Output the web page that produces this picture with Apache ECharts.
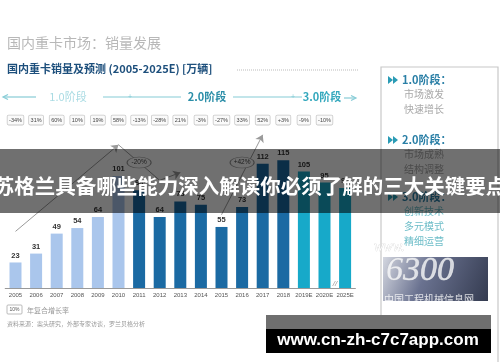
<!DOCTYPE html>
<html><head><meta charset="utf-8">
<script src="https://cdn.jsdelivr.net/npm/echarts@6/dist/echarts.min.js"></script>
<style>html,body{margin:0;padding:0;background:#fff}#c{width:500px;height:362px}</style>
</head><body><div id="c"></div>
<script>
var categories = ['2005','2006','2007','2008','2009','2010','2011','2012','2013','2014','2015','2016','2017','2018','2019E','2020E','2025E'];
var sales = [23,31,49,54,64,101,88,64,78,75,55,73,112,115,105,95,90];
var phase = [1,1,1,1,1,1,2,2,2,2,2,2,2,2,3,3,3];
var growth = ['-34%','31%','60%','10%','19%','58%','-13%','-28%','21%','-3%','-27%','33%','52%','+3%','-9%','-10%',''];
var trendLines = [
  {from:['2005',51], to:['2010',129], arrow:true},
  {from:['2010',129], to:['2012',97], arrow:false},
  {from:['2012',97], to:['2013',104], arrow:true},
  {from:['2015',66], to:['2017',138], arrow:true}
];
var bubbles = [
  {at:['2011',113], text:'-20%'},
  {at:['2016',113], text:'+42%'}
];
var phaseNames = ['1.0阶段','2.0阶段','3.0阶段'];
var phaseNotes = [['市场激发','快速增长'],['市场成熟','结构调整'],['创新技术','多元模式','精细运营']];

var phaseColors = {1:'#aac6ec',2:'#1b6aa3',3:'#17a9c9'};
var chart = echarts.init(document.getElementById('c'));
var CJK = '"Noto Sans CJK SC", sans-serif';

var g = [];
g.push({type:'text', left:7, top:36, style:{text:'国内重卡市场：销量发展', font:'14px '+CJK, fill:'#b8b8b8'}});
g.push({type:'text', left:7, top:63, style:{text:'国内重卡销量及预测 (2005-2025E) [万辆]', font:'bold 11px '+CJK, fill:'#1d4f7c'}});
g.push({type:'line', shape:{x1:237,y1:70,x2:358,y2:70}, style:{stroke:'#bbb', lineWidth:1, lineDash:[1,1]}});
var pc = '#86ccd6';
g.push({type:'line', shape:{x1:4,y1:97,x2:36,y2:97}, style:{stroke:pc, lineWidth:1.2}});
g.push({type:'polyline', shape:{points:[[8,94.5],[3,97],[8,99.5]]}, style:{stroke:pc, fill:null, lineWidth:1.2}});
g.push({type:'text', x:68, y:97, style:{text:phaseNames[0], font:'11px '+CJK, fill:'#a9dbe3', align:'center', verticalAlign:'middle'}});
g.push({type:'line', shape:{x1:103,y1:97,x2:181,y2:97}, style:{stroke:pc, lineWidth:1.2}});
g.push({type:'text', x:130, y:97, style:{text:'+', font:'7px sans-serif', fill:pc, align:'center', verticalAlign:'middle'}});
g.push({type:'text', x:207, y:97, style:{text:phaseNames[1], font:'bold 11px '+CJK, fill:'#2b8ea8', align:'center', verticalAlign:'middle'}});
g.push({type:'line', shape:{x1:233,y1:97,x2:302,y2:97}, style:{stroke:pc, lineWidth:1.2}});
g.push({type:'text', x:293, y:97, style:{text:'+', font:'7px sans-serif', fill:pc, align:'center', verticalAlign:'middle'}});
g.push({type:'text', x:322, y:97, style:{text:phaseNames[2], font:'bold 11px '+CJK, fill:'#34a8bd', align:'center', verticalAlign:'middle'}});
g.push({type:'line', shape:{x1:344,y1:98,x2:355,y2:98}, style:{stroke:pc, lineWidth:1.2}});
g.push({type:'polyline', shape:{points:[[351,95.5],[356,98],[351,100.5]]}, style:{stroke:pc, fill:null, lineWidth:1.2}});
g.push({type:'polyline', shape:{points:[[381,315],[381,67],[498,67],[498,362]]}, style:{stroke:'#c8c8c8', fill:null, lineWidth:1.2}});
var py = [80,140,197];
for (var i=0;i<3;i++){
  g.push({type:'polygon', shape:{points:[[388,py[i]-4],[393,py[i]],[388,py[i]+4]]}, style:{fill:'#2a9bb5'}});
  g.push({type:'polygon', shape:{points:[[393,py[i]-4],[398,py[i]],[393,py[i]+4]]}, style:{fill:'#2a9bb5'}});
  g.push({type:'text', x:402, y:py[i], style:{text:phaseNames[i]+'：', font:'bold 11px '+CJK, fill:'#2a7fa6', verticalAlign:'middle'}});
  for (var j=0;j<phaseNotes[i].length;j++){
    g.push({type:'text', x:404, y:py[i]+14+j*15, style:{text:phaseNotes[i][j], font:'10px '+CJK, fill: i===2?'#6dbdc8':'#a8a8a8', verticalAlign:'middle'}});
  }
}
g.push({type:'rect', shape:{x:383,y:257,width:105,height:44}, style:{fill:new echarts.graphic.LinearGradient(0,0,1,1,[{offset:0,color:'#d4d7e0'},{offset:0.4,color:'#6a7290'},{offset:1,color:'#343b50'}])}});
g.push({type:'text', x:374, y:240, style:{text:'www.', font:'italic 14px serif', fill:'#ffffff', stroke:'#d0d0d0', lineWidth:0.5}});
g.push({type:'text', x:386, y:254, style:{text:'6300', font:'italic 34px serif', fill:'rgba(255,255,255,0.75)', stroke:'#b8bcc6', lineWidth:0.8}});
g.push({type:'text', x:384, y:294, style:{text:'中国工程机械信息网', font:'10px '+CJK, fill:'rgba(255,255,255,0.8)'}});
g.push({type:'rect', shape:{x:7,y:305,width:15,height:9,r:1}, style:{fill:'#fff', stroke:'#aaa', lineWidth:0.8}});
g.push({type:'text', x:14.5, y:309.5, style:{text:'10%', font:'5px sans-serif', fill:'#555', align:'center', verticalAlign:'middle'}});
g.push({type:'text', x:27, y:310, style:{text:'年复合增长率', font:'7px '+CJK, fill:'#999', verticalAlign:'middle'}});
g.push({type:'text', x:7, y:324, style:{text:'资料来源：案头研究，外部专家访谈，罗兰贝格分析', font:'6px '+CJK, fill:'#999', verticalAlign:'middle'}});
g.push({type:'text', x:335, y:284, style:{text:'//', font:'italic 8px sans-serif', fill:'#999', align:'center', verticalAlign:'middle'}, z:50});
g.push({type:'rect', shape:{x:0,y:149,width:500,height:64}, style:{fill:'rgba(0,0,0,0.56)'}, z:100});
g.push({type:'text', x:250, y:186, style:{text:'苏格兰具备哪些能力深入解读你必须了解的三大关键要点', font:'bold 20.5px '+CJK, fill:'#fff', align:'center', verticalAlign:'middle'}, z:101});
g.push({type:'rect', shape:{x:266,y:315,width:225,height:14}, style:{fill:'#6f6f6f'}, z:100});
g.push({type:'rect', shape:{x:266,y:329,width:225,height:24}, style:{fill:'#000'}, z:100});
g.push({type:'text', x:378, y:340, style:{text:'www.cn-zh-c7c7app.com', font:'bold 17px "Liberation Sans", sans-serif', fill:'#fff', align:'center', verticalAlign:'middle'}, z:101});

var mlData = trendLines.map(function(t){
  return [{coord:t.from, symbol:'none'},{coord:t.to, symbol: t.arrow?'arrow':'none', symbolSize:7}];
});
var mpData = bubbles.map(function(b){ return {coord:b.at, value:b.text}; });

chart.setOption({
  animation:false,
  backgroundColor:'#fff',
  grid:{left:5.2, right:144.6, top:132.6, bottom:74},
  xAxis:[{
    type:'category', data:categories, position:'bottom',
    axisLine:{lineStyle:{color:'#999', width:1}}, axisTick:{show:false},
    axisLabel:{fontSize:6, color:'#555', margin:4, interval:0, fontFamily:'Liberation Sans'}
  },{
    type:'category', data:categories, position:'top',
    axisLine:{show:false}, axisTick:{show:false},
    axisLabel:{interval:0, margin:8, formatter:function(v,i){ return growth[i] ? '{b|'+growth[i]+'}' : ''; },
      rich:{b:{fontSize:5.5, color:'#444', borderColor:'#c8c8c8', borderWidth:0.8, borderRadius:1, padding:[2,1.5,1,1.5], backgroundColor:'#fafafa', fontFamily:'Liberation Sans'}}}
  }],
  yAxis:{type:'value', min:0, max:140, show:false, splitLine:{show:false}},
  series:[{
    type:'bar', data:sales.map(function(v,i){ return {value:v, itemStyle:{color:phaseColors[phase[i]]}}; }),
    barWidth:12,
    label:{show:true, position:'top', distance:3, fontSize:7.5, fontWeight:'bold', color:'#333', fontFamily:'Liberation Sans'},
    markLine:{silent:true, animation:false, symbol:['none','arrow'], lineStyle:{color:'#9a9a9a', width:1, type:'solid'}, label:{show:false}, data:mlData},
    markPoint:{silent:true, animation:false, symbol:'circle', symbolSize:[24,11], itemStyle:{color:'#fff', borderColor:'#999', borderWidth:0.8},
      label:{show:true, formatter:'{c}', fontSize:6.5, color:'#444'}, data:mpData}
  }],
  graphic:g
});
</script></body></html>
